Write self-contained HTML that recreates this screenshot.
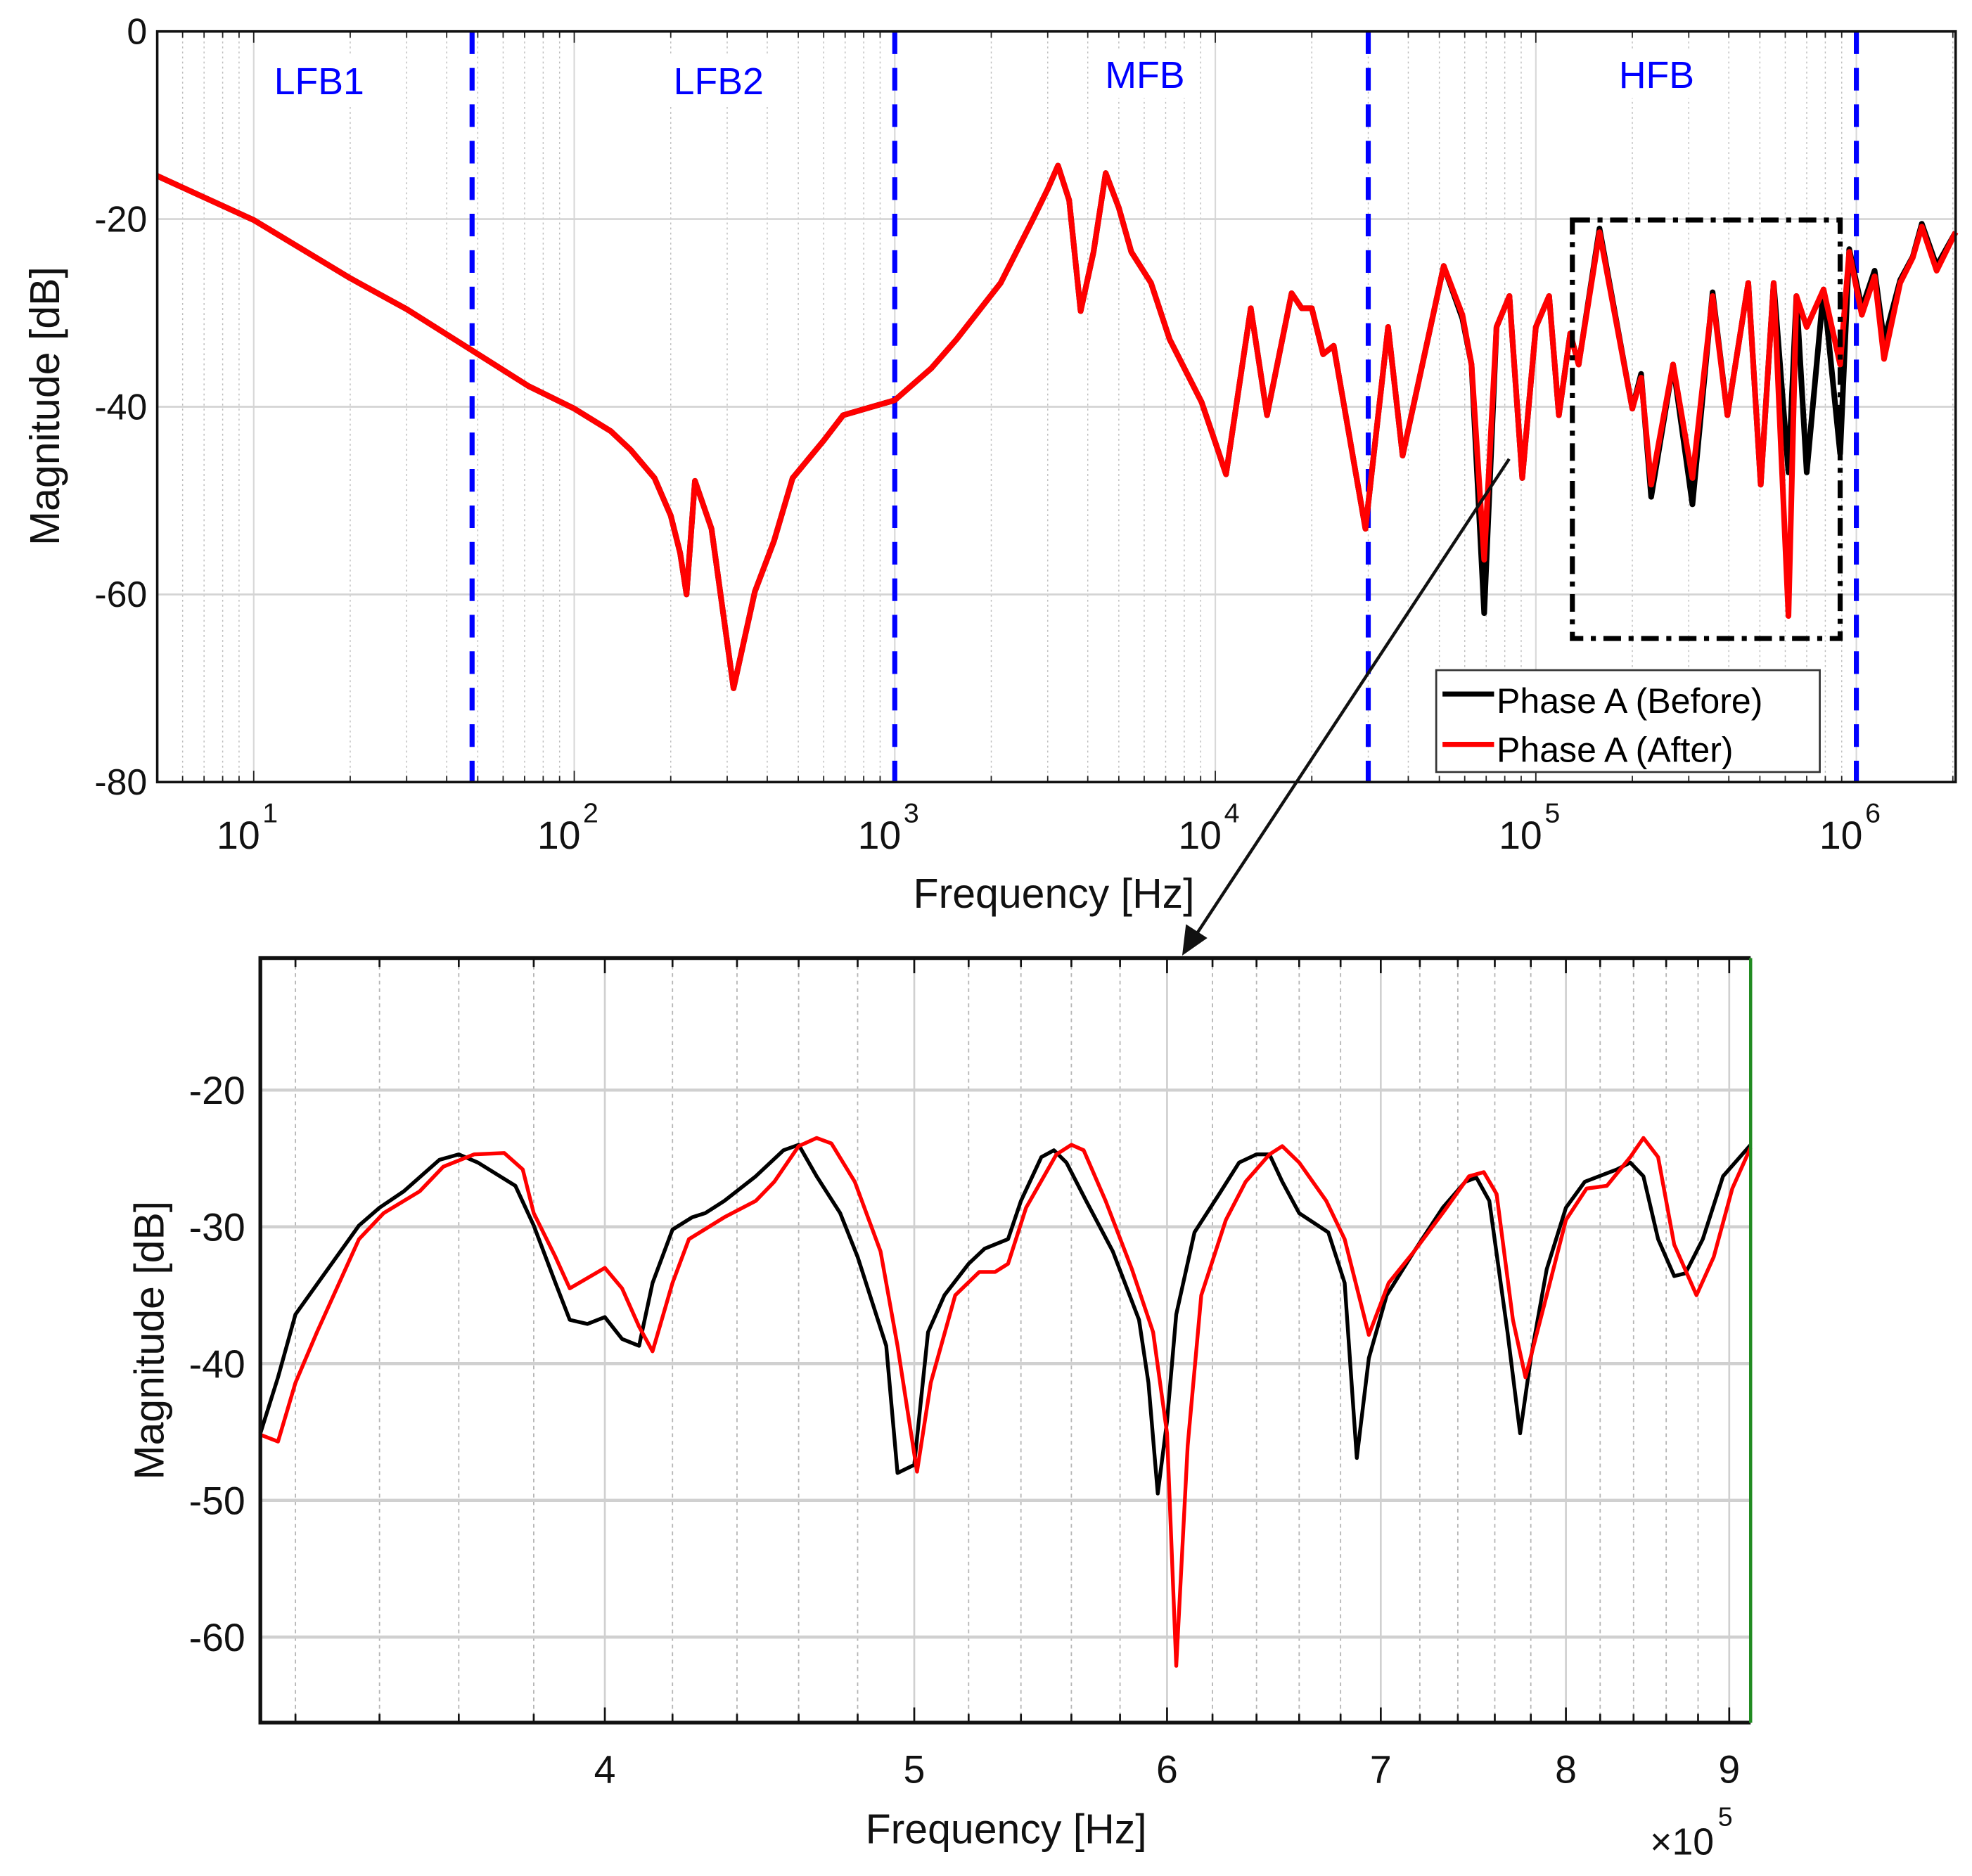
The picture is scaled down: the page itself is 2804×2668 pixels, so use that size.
<!DOCTYPE html>
<html><head><meta charset="utf-8"><style>
html,body{margin:0;padding:0;background:#fff}
svg{display:block}
text{font-family:"Liberation Sans",sans-serif}
</style></head><body>
<svg id="fig" xmlns="http://www.w3.org/2000/svg" width="2804" height="2668" viewBox="0 0 1568 1492">
<g id="top"></g>
<g id="bot"></g>
</svg>
<script>
// ---------- top chart data ----------
const topFreq=[5,10,20,30,47,72,100,130,150,178,200,214,224,238,268,314,366,420,480,600,690,850,1000,1300,1560,2140,2690,3000,3230,3500,3800,4170,4550,5000,5470,6300,7200,9060,10000,10800,12900,14500,17300,18600,20000,21700,23400,29400,34600,38400,51600,59000,63000,69000,75400,82700,90700,100000,110000,118000,128000,136000,158000,200000,213000,229000,268000,308000,356000,396000,460000,503000,552000,614000,650000,700000,790000,890000,950000,1040000,1140000,1220000,1370000,1500000,1600000,1780000,2040000];
const topRed=[-15.4,-20.1,-26.3,-29.6,-33.8,-37.8,-40.2,-42.6,-44.6,-47.6,-51.6,-55.6,-60,-47.9,-53,-70,-59.7,-54.3,-47.6,-43.6,-40.9,-40,-39.3,-35.9,-32.8,-26.8,-20.1,-16.8,-14.3,-18,-29.8,-23.5,-15.1,-18.8,-23.5,-26.8,-32.8,-39.5,-43.8,-47.2,-29.5,-40.9,-27.9,-29.5,-29.5,-34.4,-33.5,-53,-31.5,-45.2,-25,-30.2,-35.5,-56.3,-31.5,-28.2,-47.6,-31.5,-28.2,-40.9,-32.2,-35.5,-21.4,-40.2,-36.9,-48.3,-35.5,-47.6,-28.2,-40.9,-26.8,-48.3,-26.8,-62.3,-28.2,-31.5,-27.5,-35.5,-23.5,-30.2,-26.1,-34.9,-26.8,-24.1,-20.8,-25.5,-21.4];
const topBlack=[-15.4,-20.1,-26.3,-29.6,-33.8,-37.8,-40.2,-42.6,-44.6,-47.6,-51.6,-55.6,-60,-47.9,-53,-70,-59.7,-54.3,-47.6,-43.6,-40.9,-40,-39.3,-35.9,-32.8,-26.8,-20.1,-16.8,-14.3,-18,-29.8,-23.5,-15.1,-18.8,-23.5,-26.8,-32.8,-39.5,-43.8,-47.2,-29.5,-40.9,-27.9,-29.5,-29.5,-34.4,-33.5,-53,-31.5,-45.2,-25,-30.6,-35.5,-62,-31.5,-28.2,-47.6,-31.5,-28.2,-40.9,-32.2,-35.5,-21,-40.2,-36.5,-49.6,-35.5,-50.4,-27.8,-40.9,-26.8,-48.3,-26.8,-47,-28.2,-47,-27.5,-45,-23.2,-29.5,-25.5,-33,-26.5,-24,-20.5,-25,-21.4];
const topYTicks=[0,-20,-40,-60,-80];
const topXExp=[1,2,3,4,5,6];
const bandEdges=[48,1000,30000,1000000];
const bandLabels=["LFB1","LFB2","MFB","HFB"];
const bandLabelFreq=[16,282,6030,238000];
// ---------- zoom chart data (x in 1e5 Hz) ----------
const zBlackF=[3.12,3.16,3.20,3.35,3.40,3.46,3.55,3.60,3.65,3.75,3.80,3.86,3.90,3.95,4.0,4.05,4.10,4.14,4.20,4.26,4.30,4.36,4.46,4.55,4.60,4.66,4.74,4.80,4.90,4.94,5.0,5.05,5.11,5.20,5.26,5.35,5.40,5.48,5.53,5.58,5.66,5.77,5.88,5.92,5.96,6.00,6.04,6.12,6.23,6.32,6.40,6.46,6.52,6.60,6.74,6.82,6.88,6.94,7.03,7.17,7.32,7.44,7.50,7.57,7.67,7.74,7.80,7.89,8.00,8.11,8.30,8.38,8.46,8.55,8.65,8.72,8.83,8.96,9.14];
const zBlackDB=[-45.1,-41,-36.4,-29.9,-28.6,-27.4,-25.1,-24.7,-25.3,-27,-29.9,-34.1,-36.8,-37.1,-36.6,-38.2,-38.7,-34.1,-30.2,-29.3,-29,-28.1,-26.3,-24.4,-24,-26.3,-29,-32.2,-38.7,-48,-47.4,-37.7,-35,-32.7,-31.6,-30.9,-28.1,-24.9,-24.4,-25.3,-28.1,-31.8,-36.8,-41.4,-49.5,-44.2,-36.4,-30.4,-27.6,-25.3,-24.7,-24.7,-26.7,-29,-30.4,-34.1,-46.9,-39.6,-35,-31.8,-28.6,-26.7,-26.4,-28.1,-37.7,-45.1,-39.6,-33.1,-28.6,-26.7,-25.8,-25.3,-26.3,-30.9,-33.6,-33.4,-30.9,-26.3,-24];
const zRedF=[3.12,3.16,3.20,3.25,3.35,3.41,3.50,3.56,3.64,3.72,3.77,3.80,3.86,3.90,4.00,4.05,4.10,4.14,4.20,4.25,4.36,4.46,4.52,4.60,4.66,4.71,4.79,4.88,4.94,5.01,5.06,5.15,5.24,5.30,5.35,5.42,5.54,5.60,5.65,5.74,5.85,5.94,6.00,6.04,6.09,6.15,6.26,6.35,6.46,6.52,6.60,6.73,6.82,6.89,6.94,7.04,7.17,7.33,7.46,7.54,7.61,7.70,7.77,7.89,8.00,8.12,8.24,8.38,8.46,8.55,8.65,8.79,8.90,9.02,9.14];
const zRedDB=[-45.2,-45.7,-41.4,-37.7,-30.9,-29,-27.4,-25.6,-24.7,-24.6,-25.8,-29,-32.2,-34.5,-33,-34.5,-37.3,-39.1,-34.1,-30.9,-29.3,-28.1,-26.7,-24.1,-23.5,-23.9,-26.7,-31.8,-38.7,-47.9,-41.4,-35,-33.3,-33.3,-32.7,-28.6,-24.7,-24,-24.4,-28.1,-33.1,-37.7,-45.1,-62.1,-46,-35,-29.5,-26.7,-24.7,-24.1,-25.3,-28.1,-30.9,-35,-37.9,-34.1,-31.8,-28.8,-26.3,-26,-27.6,-36.8,-41,-35,-29.5,-27.2,-27,-24.9,-23.5,-24.9,-31.3,-35,-32.2,-27.2,-24.2];
const zYTicks=[-20,-30,-40,-50,-60];
const zXTicks=[4,5,6,7,8,9];

const NS="http://www.w3.org/2000/svg";
function mk(parent,tag,attrs,txt){const e=document.createElementNS(NS,tag);for(const k in attrs)e.setAttribute(k,attrs[k]);if(txt!==undefined)e.textContent=txt;parent.appendChild(e);return e;}

// ---- top axes ----
const T={l:125,r:1555,t:25,b:622,fmin:5,fmax:2.04e6,ymin:-80,ymax:0};
const tx=f=>T.l+(Math.log10(f)-Math.log10(T.fmin))/(Math.log10(T.fmax)-Math.log10(T.fmin))*(T.r-T.l);
const ty=v=>T.t+(T.ymax-v)/(T.ymax-T.ymin)*(T.b-T.t);
const gt=document.getElementById('top');
for(let e=0;e<=6;e++)for(let m=1;m<10;m++){const f=m*Math.pow(10,e);if(f<T.fmin||f>T.fmax)continue;const x=tx(f);
 let g;
 if(m===1){g=mk(gt,'line',{x1:x,x2:x,y1:T.t,y2:T.b,stroke:'#d8d8d8','stroke-width':1.2});}
 else{g=mk(gt,'line',{x1:x,x2:x,y1:T.t,y2:T.b,stroke:'#bdbdbd','stroke-width':0.8,'stroke-dasharray':'1.5,2.5'});}
 
 
 const tk=mk(gt,'path',{d:`M${x},${T.b}v${m===1?-9:-5}M${x},${T.t}v${m===1?9:5}`,stroke:'#222','stroke-width':1});
 
 
}
topYTicks.forEach(v=>{const y=ty(v);
 if(v>T.ymin&&v<T.ymax){const g=mk(gt,'line',{x1:T.l,x2:T.r,y1:y,y2:y,stroke:'#d4d4d4','stroke-width':1.5});
 
 }
 const t=mk(gt,'text',{x:T.l-8,y:y+10,'text-anchor':'end','font-size':29,fill:'#111'},String(v));
 
 
});
topXExp.forEach(e=>{const x=tx(Math.pow(10,e));
 const t=mk(gt,'text',{x:x+5,y:675,'text-anchor':'end','font-size':31,fill:'#111'},'10');
 
 
 const s=mk(gt,'text',{x:x+7,y:654,'font-size':22,fill:'#111'},String(e));
 
 
});
bandEdges.forEach(f=>{const x=tx(f);const l=mk(gt,'line',{x1:x,x2:x,y1:T.t,y2:T.b+5,stroke:'#0000ff','stroke-width':4,'stroke-dasharray':'18,11'});
 
 });
bandLabels.forEach((s,i)=>{const x=tx(bandLabelFreq[i]);const y=i<2?75:70;
 const b=mk(gt,'rect',{x:x-42,y:y-30,width:84,height:38,fill:'#fff'});
 
 
 const t=mk(gt,'text',{x:x,y:y,'text-anchor':'middle','font-size':30,fill:'#0000ff'},s);
 
 });
function poly(g,F,V,fx,fy,col,w,name){const d=F.map((f,i)=>(i?'L':'M')+fx(f).toFixed(2)+','+fy(V[i]).toFixed(2)).join('');
 const p=mk(g,'path',{d:d,fill:'none',stroke:col,'stroke-width':w,'stroke-linejoin':'round'});
 
 }
poly(gt,topFreq,topBlack,tx,ty,'#000',4.5,'series-before');
poly(gt,topFreq,topRed,tx,ty,'#ff0000',4.5,'series-after');
{const x1=tx(130000),x2=tx(890000),y1=ty(-20.1),y2=ty(-64.7);
 const r=mk(gt,'rect',{x:x1,y:y1,width:x2-x1,height:y2-y1,fill:'none',stroke:'#000','stroke-width':4,'stroke-dasharray':'14,6,4,6'});
 
 }
{const f=mk(gt,'rect',{x:T.l,y:T.t,width:T.r-T.l,height:T.b-T.t,fill:'none',stroke:'#111','stroke-width':2});
 
 }
{const lg=mk(gt,'g',{});
 
 
 mk(lg,'rect',{x:1142,y:533,width:305,height:81,fill:'#fff',stroke:'#333','stroke-width':1.5});
 const e1=mk(lg,'line',{x1:1147,x2:1188,y1:552,y2:552,stroke:'#000','stroke-width':4});
 
 
 const t1=mk(lg,'text',{x:1190,y:567,'font-size':28,fill:'#000'},'Phase A (Before)');
 
 
 const e2=mk(lg,'line',{x1:1147,x2:1188,y1:592,y2:592,stroke:'#ff0000','stroke-width':4});
 
 
 const t2=mk(lg,'text',{x:1190,y:606,'font-size':28,fill:'#000'},'Phase A (After)');
 
 }
{const t=mk(gt,'text',{x:838,y:722,'text-anchor':'middle','font-size':33,fill:'#111'},'Frequency [Hz]');
 
 
 const y=mk(gt,'text',{x:0,y:0,transform:'translate(47,323) rotate(-90)','text-anchor':'middle','font-size':33,fill:'#111'},'Magnitude [dB]');
 
 }

// ---- zoom axes ----
const Z={l:207,r:1392,t:762,b:1370,fmin:3.12,fmax:9.14,ymin:-66.25,ymax:-10.35};
const zx=f=>Z.l+(Math.log10(f)-Math.log10(Z.fmin))/(Math.log10(Z.fmax)-Math.log10(Z.fmin))*(Z.r-Z.l);
const zy=v=>Z.t+(Z.ymax-v)/(Z.ymax-Z.ymin)*(Z.b-Z.t);
const gb=document.getElementById('bot');
for(let k=16;k<=45;k++){const f=k*0.2;if(f<Z.fmin||f>Z.fmax)continue;const major=(k%5===0);const x=zx(f);
 const g=mk(gb,'line',major?{x1:x,x2:x,y1:Z.t,y2:Z.b,stroke:'#d0d0d0','stroke-width':1.5}:{x1:x,x2:x,y1:Z.t,y2:Z.b,stroke:'#b5b5b5','stroke-width':1,'stroke-dasharray':'3,3'});
 
 
 const tk=mk(gb,'path',{d:`M${x},${Z.b}v${major?-12:-7}M${x},${Z.t}v${major?12:7}`,stroke:'#111','stroke-width':1.5});
 
 
}
zYTicks.forEach(v=>{const y=zy(v);
 const g=mk(gb,'line',{x1:Z.l,x2:Z.r,y1:y,y2:y,stroke:'#d0d0d0','stroke-width':2.5});
 
 
 const t=mk(gb,'text',{x:Z.l-12,y:y+11,'text-anchor':'end','font-size':31,fill:'#111'},String(v));
 
 });
zXTicks.forEach(v=>{const t=mk(gb,'text',{x:zx(v),y:1418,'text-anchor':'middle','font-size':31,fill:'#111'},String(v));
 
 });
poly(gb,zBlackF,zBlackDB,zx,zy,'#000',3,'zoom-series-before');
poly(gb,zRedF,zRedDB,zx,zy,'#ff0000',3,'zoom-series-after');
{const f=mk(gb,'path',{d:`M${Z.r},${Z.t}H${Z.l}V${Z.b}H${Z.r}`,fill:'none',stroke:'#111','stroke-width':3});
 
 
 const rg=mk(gb,'line',{x1:Z.r,x2:Z.r,y1:Z.t,y2:Z.b,stroke:'#228b22','stroke-width':2.5});
 
 
 const t=mk(gb,'text',{x:800,y:1466,'text-anchor':'middle','font-size':33,fill:'#111'},'Frequency [Hz]');
 
 
 const y=mk(gb,'text',{x:0,y:0,transform:'translate(130,1066) rotate(-90)','text-anchor':'middle','font-size':33,fill:'#111'},'Magnitude [dB]');
 
 
 const m=mk(gb,'text',{x:1312,y:1475,'font-size':30,fill:'#111'},'×10');
 
 
 const me=mk(gb,'text',{x:1366,y:1452,'font-size':21,fill:'#111'},'5');
 
 }
{const a=mk(document.getElementById('fig'),'g',{});
 
 
 mk(a,'line',{x1:1200,y1:365,x2:950,y2:745,stroke:'#111','stroke-width':2.5});
 mk(a,'polygon',{points:'940,760 943,735 960,746',fill:'#111'});}
</script>
</body></html>
